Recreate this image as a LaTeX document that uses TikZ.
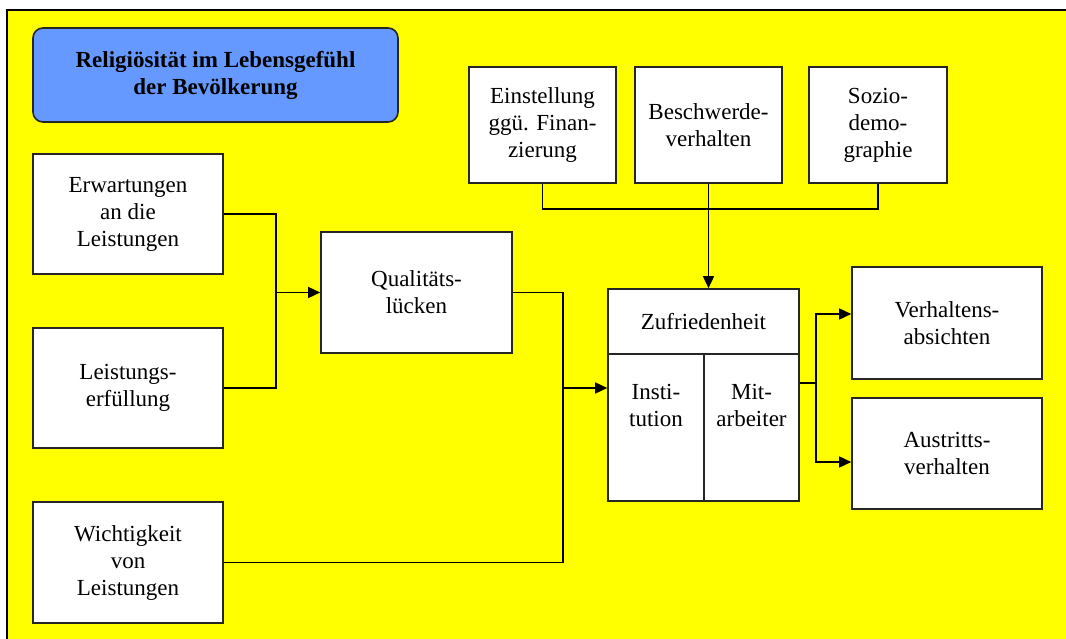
\documentclass[tikz,border=0pt]{standalone}
\usepackage{fontspec}
\setmainfont{Liberation Serif}
\usetikzlibrary{arrows.meta}
\definecolor{bgyellow}{RGB}{255,255,0}
\definecolor{titleblue}{RGB}{102,153,255}
\tikzset{box/.style={draw=black!85,line width=1.6pt,fill=white,align=center,inner sep=0pt,
           font=\rmfamily\fontsize{23}{27}\selectfont},
         lbl/.style={align=center,font=\rmfamily\fontsize{23}{27}\selectfont},
         link/.style={line width=1.5pt},
         arr/.style={link,-{Triangle[length=12pt,width=11pt]}}}

\begin{document}
\begin{tikzpicture}[x=1pt,y=-1pt]
\useasboundingbox (0,0) rectangle (1066,639);
\begin{scope}
\clip (0,0) rectangle (1066,639);
\draw[fill=bgyellow,line width=1.8pt] (7,10) rectangle (1090,660);
\end{scope}

\node[box,fill=titleblue,rounded corners=10pt,minimum width=365pt,minimum height=94pt,
      font=\rmfamily\bfseries\fontsize{23}{27}\selectfont] (title) at (215.5,75) {Religiösität im Lebensgefühl\\der Bevölkerung};

\node[box,minimum width=190pt,minimum height=120pt] (erw) at (128,214) {Erwartungen\\an die\\Leistungen};
\node[box,minimum width=190pt,minimum height=120pt] (leist) at (128,388) {Leistungs-\\erfüllung};
\node[box,minimum width=190pt,minimum height=121pt] (wicht) at (128,562.5) {Wichtigkeit\\von\\Leistungen};
\node[box,minimum width=191pt,minimum height=121pt] (qual) at (416.5,292.5) {Qualitäts-\\lücken};

\node[box,minimum width=147pt,minimum height=116pt] (einst) at (542.5,125) {Einstellung\\ggü. Finan-\\zierung};
\node[box,minimum width=147pt,minimum height=116pt] (beschw) at (708.5,125) {Beschwerde-\\verhalten};
\node[box,minimum width=138pt,minimum height=116pt] (sozio) at (878,125) {Sozio-\\demo-\\graphie};

\node[box,minimum width=191pt,minimum height=65pt] (zuf) at (703.5,321.5) {Zufriedenheit};
\node[box,minimum width=96pt,minimum height=147pt,
      label={[lbl,anchor=north,yshift=-28pt]north:Insti-\\tution}] (inst) at (656,427.5) {};
\node[box,minimum width=95pt,minimum height=147pt,
      label={[lbl,anchor=north,yshift=-28pt]north:Mit-\\arbeiter}] (mit) at (751.5,427.5) {};

\node[box,minimum width=190pt,minimum height=112pt] (verh) at (947,323) {Verhaltens-\\absichten};
\node[box,minimum width=190pt,minimum height=111pt] (austr) at (947,453.5) {Austritts-\\verhalten};

\coordinate (j1) at (276,292.5);
\coordinate (j2) at (563,388);
\coordinate (j3) at (816,383);
\coordinate (bus) at (708.5,209);

\draw[link] (erw.east) -| (j1);
\draw[link] (leist.east) -| (j1);
\draw[arr] (j1) -- (qual.west);

\draw[link] (qual.east) -| (j2);
\draw[link] (wicht.east) -| (j2);
\draw[arr] (j2) -- (j2 -| inst.west);

\draw[link] (einst.south) |- (bus);
\draw[link] (sozio.south) |- (bus);
\draw[arr] (beschw.south) -- (beschw.south |- zuf.north);

\draw[link] (j3 -| mit.east) -- (j3);
\draw[arr] (j3) |- ([yshift=9pt]verh.west);
\draw[arr] (j3) |- ([yshift=-8.5pt]austr.west);
\end{tikzpicture}
\end{document}
